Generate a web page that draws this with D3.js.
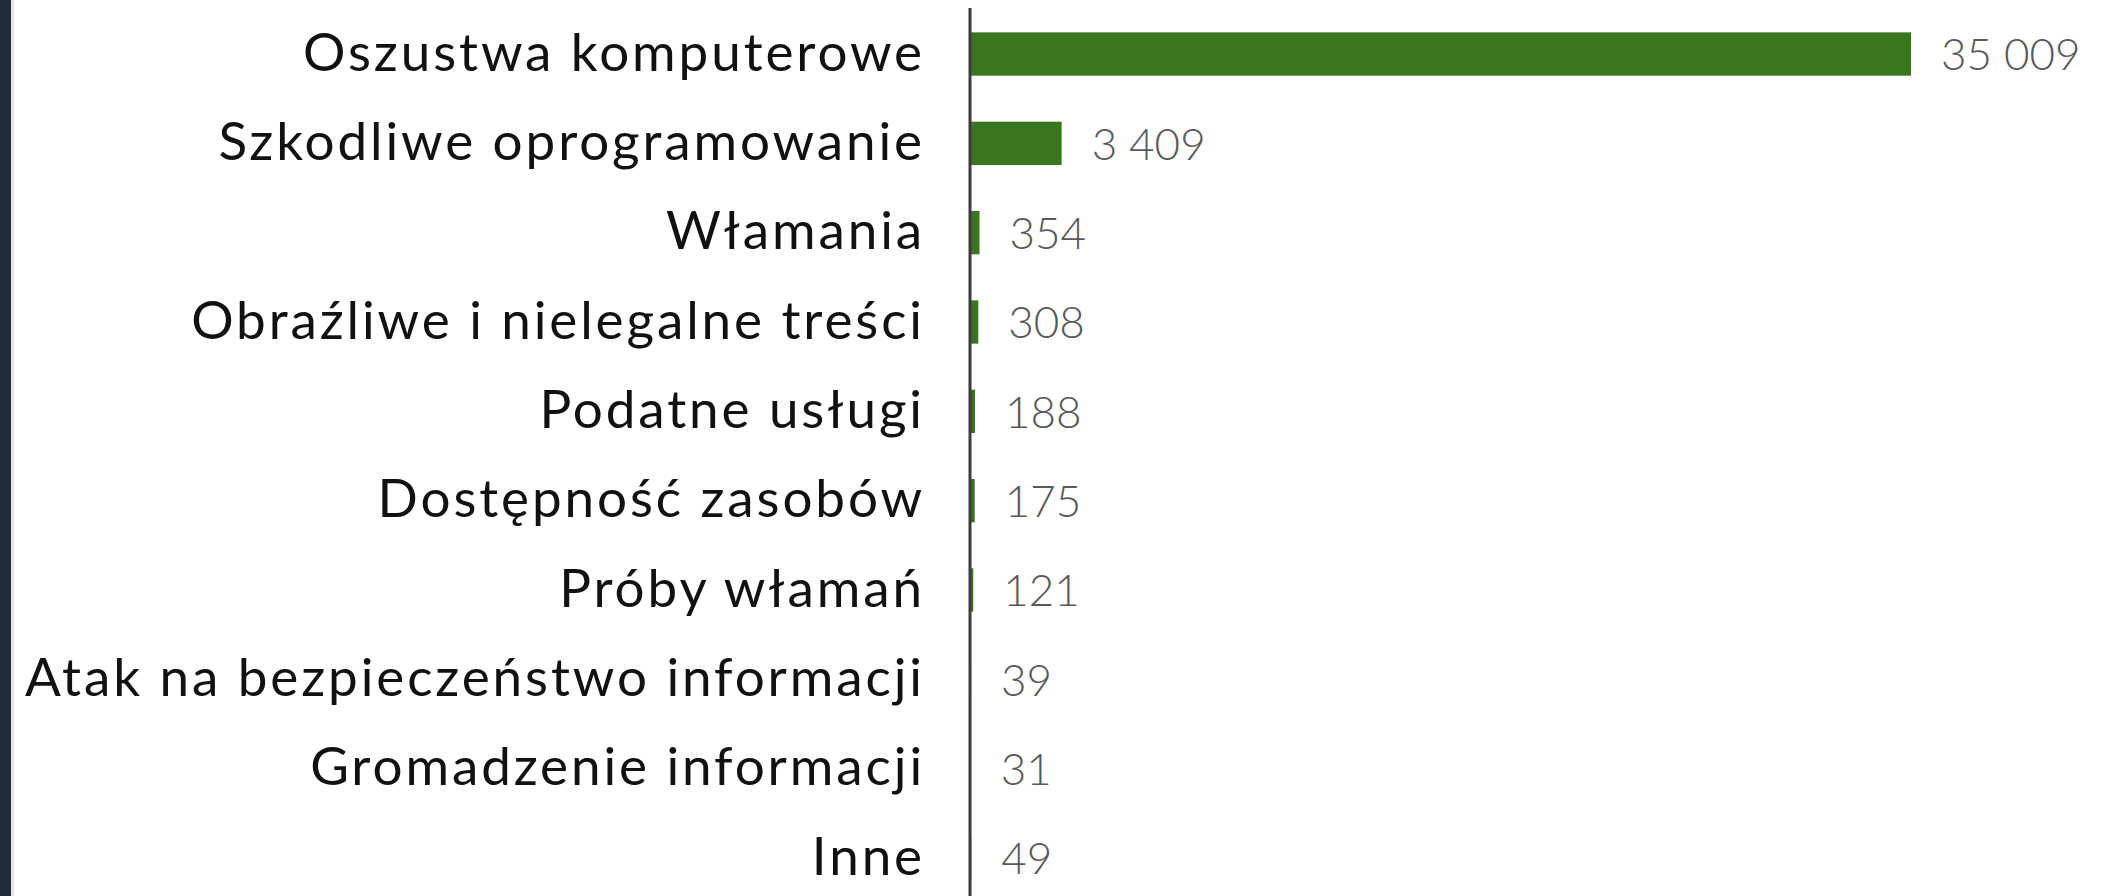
<!DOCTYPE html>
<html>
<head>
<meta charset="utf-8">
<script src="https://cdn.jsdelivr.net/npm/d3@7"></script>
<style>
  html, body { margin: 0; padding: 0; background: #fff; }
  svg { display: block; }
</style>
</head>
<body>
<svg id="chart"></svg>
<script>
var categories = [
  "Oszustwa komputerowe",
  "Szkodliwe oprogramowanie",
  "Włamania",
  "Obraźliwe i nielegalne treści",
  "Podatne usługi",
  "Dostępność zasobów",
  "Próby włamań",
  "Atak na bezpieczeństwo informacji",
  "Gromadzenie informacji",
  "Inne"
];

var values = [35009, 3409, 354, 308, 188, 175, 121, 39, 31, 49];

var W = 2102, H = 896;

var svg = d3.select('#chart')
  .attr('width', W)
  .attr('height', H);

svg.append('rect')
  .attr('width', W).attr('height', H)
  .attr('fill', '#ffffff');

// dark frame strip on the left
svg.append('rect')
  .attr('x', 0).attr('y', 0)
  .attr('width', 11).attr('height', H)
  .attr('fill', '#222c38');
svg.append('rect')
  .attr('x', 11).attr('y', 0)
  .attr('width', 3).attr('height', H)
  .attr('fill', '#e4e6e8');

var x = d3.scaleLinear()
  .domain([0, 35009])
  .range([970, 1911]);

var y = d3.scaleBand()
  .domain(categories)
  .range([9.35, 902.65])
  .paddingInner(0.515)
  .paddingOuter(0.2575);

var fmt = d3.formatLocale({ decimal: ",", thousands: " ", grouping: [3], currency: ["", " zł"] }).format(",d");

var data = categories.map((c, i) => ({ name: c, value: values[i] }));

var g = svg.append('g');

g.selectAll('rect.bar')
  .data(data)
  .enter()
  .append('rect')
  .attr('class', 'bar')
  .attr('x', x(0))
  .attr('y', d => y(d.name))
  .attr('width', d => x(d.value) - x(0))
  .attr('height', y.bandwidth())
  .attr('fill', '#3a7520');

// category axis line
svg.append('line')
  .attr('x1', x(0)).attr('x2', x(0))
  .attr('y1', 8).attr('y2', H)
  .attr('stroke', '#3c3c3c')
  .attr('stroke-width', 3);

// category labels
g.selectAll('text.cat')
  .data(data)
  .enter()
  .append('text')
  .attr('class', 'cat')
  .attr('x', 925)
  .attr('y', d => y(d.name) + y.bandwidth() / 2 - 2)
  .attr('dy', '0.35em')
  .attr('text-anchor', 'end')
  .attr('font-family', 'Lato, "Noto Sans", sans-serif')
  .attr('font-size', 53)
  .attr('letter-spacing', 2.9)
  .attr('fill', '#111')
  .text(d => d.name);

// value labels
g.selectAll('text.val')
  .data(data)
  .enter()
  .append('text')
  .attr('class', 'val')
  .attr('x', d => x(d.value) + 30)
  .attr('y', d => y(d.name) + y.bandwidth() / 2 + 1)
  .attr('dy', '0.35em')
  .attr('font-family', 'Lato, "Noto Sans", sans-serif')
  .attr('font-weight', 300)
  .attr('font-size', 44)
  .attr('fill', '#595959')
  .text(d => fmt(d.value));
</script>
</body>
</html>
